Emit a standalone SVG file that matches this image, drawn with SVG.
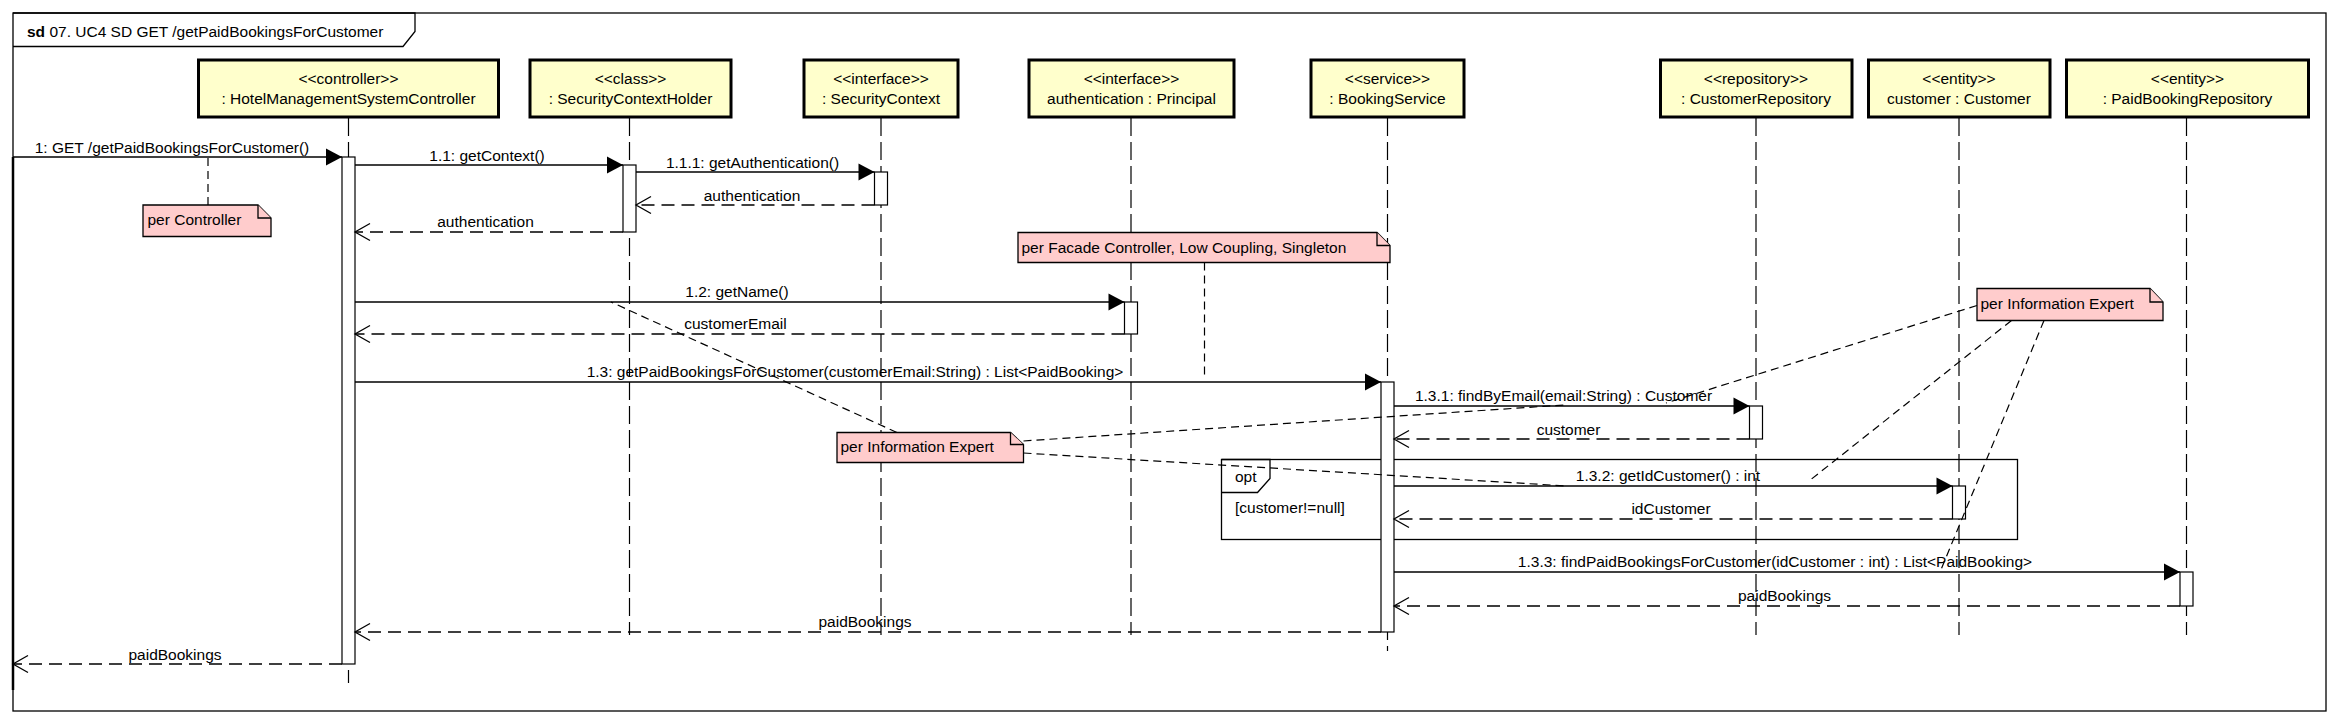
<svg xmlns="http://www.w3.org/2000/svg" width="2340" height="725" viewBox="0 0 2340 725">
<defs>
<style>
text{font-family:"Liberation Sans",Arial,sans-serif;font-size:15.5px;fill:#000}
.mid{text-anchor:middle}
.head{fill:#FFFFCC;stroke:#000;stroke-width:3}
.life{stroke:#000;stroke-width:1.2;stroke-dasharray:18,6;fill:none}
.act{fill:#fff;stroke:#000;stroke-width:1.2}
.msg{stroke:#000;stroke-width:1.3;fill:none;marker-end:url(#filled)}
.ret{stroke:#000;stroke-width:1.3;fill:none;stroke-dasharray:13,7;marker-end:url(#open)}
.note{fill:#FFCCCC;stroke:#000;stroke-width:1.3}
.nlink{stroke:#000;stroke-width:1.2;stroke-dasharray:8,5;fill:none}
.frame{fill:none;stroke:#000;stroke-width:1.3}
</style>
<marker id="filled" markerUnits="userSpaceOnUse" markerWidth="17" markerHeight="17" refX="16" refY="8.5" orient="auto" overflow="visible">
<path d="M0,0 L16,8.5 L0,17 z" fill="#000"/>
</marker>
<marker id="open" markerUnits="userSpaceOnUse" markerWidth="16" markerHeight="18" refX="15" refY="8.5" orient="auto" overflow="visible">
<path d="M0,0 L15,8.5 L0,17" fill="none" stroke="#000" stroke-width="1.3"/>
</marker>
</defs>
<rect x="0" y="0" width="2340" height="725" fill="#fff"/>

<g id="frame">
<rect class="frame" x="13" y="13" width="2313" height="698"/>
<path class="frame" d="M13,13 L415,13 L415,31.5 L403,46.5 L13,46.5"/>
<text x="27" y="36.5"><tspan font-weight="bold">sd</tspan> 07. UC4 SD GET /getPaidBookingsForCustomer</text>
<line x1="13" y1="157" x2="13" y2="690" stroke="#000" stroke-width="2.5"/>
</g>

<g id="lifelines">
<line class="life" x1="348.5" y1="118" x2="348.5" y2="683"/>
<line class="life" x1="629.5" y1="118" x2="629.5" y2="635"/>
<line class="life" x1="881" y1="118" x2="881" y2="635"/>
<line class="life" x1="1131" y1="118" x2="1131" y2="635"/>
<line class="life" x1="1387.5" y1="118" x2="1387.5" y2="651"/>
<line class="life" x1="1756" y1="118" x2="1756" y2="635"/>
<line class="life" x1="1959" y1="118" x2="1959" y2="635"/>
<line class="life" x1="2186.5" y1="118" x2="2186.5" y2="635"/>
</g>

<g id="n_controller">
<rect class="head" x="198.5" y="60" width="300" height="57"/>
<text class="mid" x="348.5" y="84">&lt;&lt;controller&gt;&gt;</text>
<text class="mid" x="348.5" y="104">: HotelManagementSystemController</text>
</g>
<g id="n_sch">
<rect class="head" x="530" y="60" width="201" height="57"/>
<text class="mid" x="630.5" y="84">&lt;&lt;class&gt;&gt;</text>
<text class="mid" x="630.5" y="104">: SecurityContextHolder</text>
</g>
<g id="n_sc">
<rect class="head" x="804" y="60" width="154" height="57"/>
<text class="mid" x="881" y="84">&lt;&lt;interface&gt;&gt;</text>
<text class="mid" x="881" y="104">: SecurityContext</text>
</g>
<g id="n_principal">
<rect class="head" x="1029" y="60" width="205" height="57"/>
<text class="mid" x="1131.5" y="84">&lt;&lt;interface&gt;&gt;</text>
<text class="mid" x="1131.5" y="104">authentication : Principal</text>
</g>
<g id="n_bookingservice">
<rect class="head" x="1311" y="60" width="153" height="57"/>
<text class="mid" x="1387.5" y="84">&lt;&lt;service&gt;&gt;</text>
<text class="mid" x="1387.5" y="104">: BookingService</text>
</g>
<g id="n_customerrepo">
<rect class="head" x="1660.5" y="60" width="191.5" height="57"/>
<text class="mid" x="1756" y="84">&lt;&lt;repository&gt;&gt;</text>
<text class="mid" x="1756" y="104">: CustomerRepository</text>
</g>
<g id="n_customer">
<rect class="head" x="1868.5" y="60" width="181.5" height="57"/>
<text class="mid" x="1959" y="84">&lt;&lt;entity&gt;&gt;</text>
<text class="mid" x="1959" y="104">customer : Customer</text>
</g>
<g id="n_paidbookingrepo">
<rect class="head" x="2066.5" y="60" width="242" height="57"/>
<text class="mid" x="2187.5" y="84">&lt;&lt;entity&gt;&gt;</text>
<text class="mid" x="2187.5" y="104">: PaidBookingRepository</text>
</g>

<g id="opt_fragment">
<rect class="frame" x="1221.5" y="459.5" width="796" height="80"/>
<path class="frame" d="M1221.5,459.5 L1270,459.5 L1270,478.5 L1257.5,492.5 L1221.5,492.5"/>
<text x="1235" y="482">opt</text>
<text x="1235" y="513">[customer!=null]</text>
</g>

<g id="activations">
<rect class="act" x="342" y="157" width="13" height="507"/>
<rect class="act" x="623" y="165" width="13" height="67"/>
<rect class="act" x="874.5" y="172" width="13" height="33"/>
<rect class="act" x="1124.5" y="302" width="13" height="32"/>
<rect class="act" x="1381" y="382" width="13" height="250"/>
<rect class="act" x="1749.5" y="406" width="13" height="33"/>
<rect class="act" x="1952.5" y="486" width="13" height="33"/>
<rect class="act" x="2180" y="572" width="13" height="34"/>
</g>

<g id="connectors">
<line class="msg" x1="13" y1="157" x2="342" y2="157"/>
<text class="mid" x="172" y="152.5">1: GET /getPaidBookingsForCustomer()</text>
<line class="msg" x1="355" y1="165" x2="623" y2="165"/>
<text class="mid" x="487" y="160.5">1.1: getContext()</text>
<line class="msg" x1="636" y1="172" x2="874.5" y2="172"/>
<text class="mid" x="752.5" y="167.5">1.1.1: getAuthentication()</text>
<line class="ret" x1="874.5" y1="205" x2="636" y2="205"/>
<text class="mid" x="752" y="200.5">authentication</text>
<line class="ret" x1="623" y1="232" x2="355" y2="232"/>
<text class="mid" x="485.5" y="227">authentication</text>
<line class="msg" x1="355" y1="302" x2="1124.5" y2="302"/>
<text class="mid" x="737" y="296.5">1.2: getName()</text>
<line class="ret" x1="1124.5" y1="334" x2="355" y2="334"/>
<text class="mid" x="735.5" y="329">customerEmail</text>
<line class="msg" x1="355" y1="382" x2="1381" y2="382"/>
<text class="mid" x="855" y="377">1.3: getPaidBookingsForCustomer(customerEmail:String) : List&lt;PaidBooking&gt;</text>
<line class="msg" x1="1394" y1="406" x2="1749.5" y2="406"/>
<text class="mid" x="1563.5" y="401">1.3.1: findByEmail(email:String) : Customer</text>
<line class="ret" x1="1749.5" y1="439" x2="1394" y2="439"/>
<text class="mid" x="1568.5" y="434.5">customer</text>
<line class="msg" x1="1394" y1="486" x2="1952.5" y2="486"/>
<text class="mid" x="1668" y="481">1.3.2: getIdCustomer() : int</text>
<line class="ret" x1="1952.5" y1="519" x2="1394" y2="519"/>
<text class="mid" x="1671" y="513.5">idCustomer</text>
<line class="msg" x1="1394" y1="572" x2="2180" y2="572"/>
<text class="mid" x="1775" y="567">1.3.3: findPaidBookingsForCustomer(idCustomer : int) : List&lt;PaidBooking&gt;</text>
<line class="ret" x1="2180" y1="606" x2="1394" y2="606"/>
<text class="mid" x="1784.5" y="601">paidBookings</text>
<line class="ret" x1="1381" y1="632" x2="355" y2="632"/>
<text class="mid" x="865" y="627">paidBookings</text>
<line class="ret" x1="342" y1="664" x2="13" y2="664"/>
<text class="mid" x="175" y="659.5">paidBookings</text>
</g>

<g id="note_controller">
<path class="note" d="M143,205 L258,205 L271,218 L271,236.5 L143,236.5 Z"/>
<path class="note" d="M258,205 L258,218 L271,218" fill="none"/>
<text x="147.5" y="225">per Controller</text>
</g>
<g id="note_facade">
<path class="note" d="M1018,232.5 L1377,232.5 L1390,245.5 L1390,262.5 L1018,262.5 Z"/>
<path class="note" d="M1377,232.5 L1377,245.5 L1390,245.5" fill="none"/>
<text x="1021.5" y="252.5">per Facade Controller, Low Coupling, Singleton</text>
</g>
<g id="note_infoexpert_mid">
<path class="note" d="M837,432.5 L1010.5,432.5 L1023.5,444.5 L1023.5,462.5 L837,462.5 Z"/>
<path class="note" d="M1010.5,432.5 L1010.5,444.5 L1023.5,444.5" fill="none"/>
<text x="840.5" y="452">per Information Expert</text>
</g>
<g id="note_infoexpert_right">
<path class="note" d="M1977,288.5 L2150,288.5 L2163,302 L2163,320.5 L1977,320.5 Z"/>
<path class="note" d="M2150,288.5 L2150,302 L2163,302" fill="none"/>
<text x="1980.5" y="308.5">per Information Expert</text>
</g>

<g id="note_links">
<line class="nlink" x1="208" y1="205" x2="208" y2="158"/>
<line class="nlink" x1="1204.5" y1="262.5" x2="1204.5" y2="377"/>
<line class="nlink" x1="897" y1="432.5" x2="611" y2="302"/>
<line class="nlink" x1="1023.5" y1="441" x2="1564" y2="405"/>
<line class="nlink" x1="1023.5" y1="453" x2="1567" y2="486"/>
<line class="nlink" x1="1977" y1="305.5" x2="1666" y2="403"/>
<line class="nlink" x1="2011.5" y1="320.5" x2="1809" y2="481"/>
<line class="nlink" x1="2044" y1="320.5" x2="1940" y2="572"/>
</g>
</svg>
